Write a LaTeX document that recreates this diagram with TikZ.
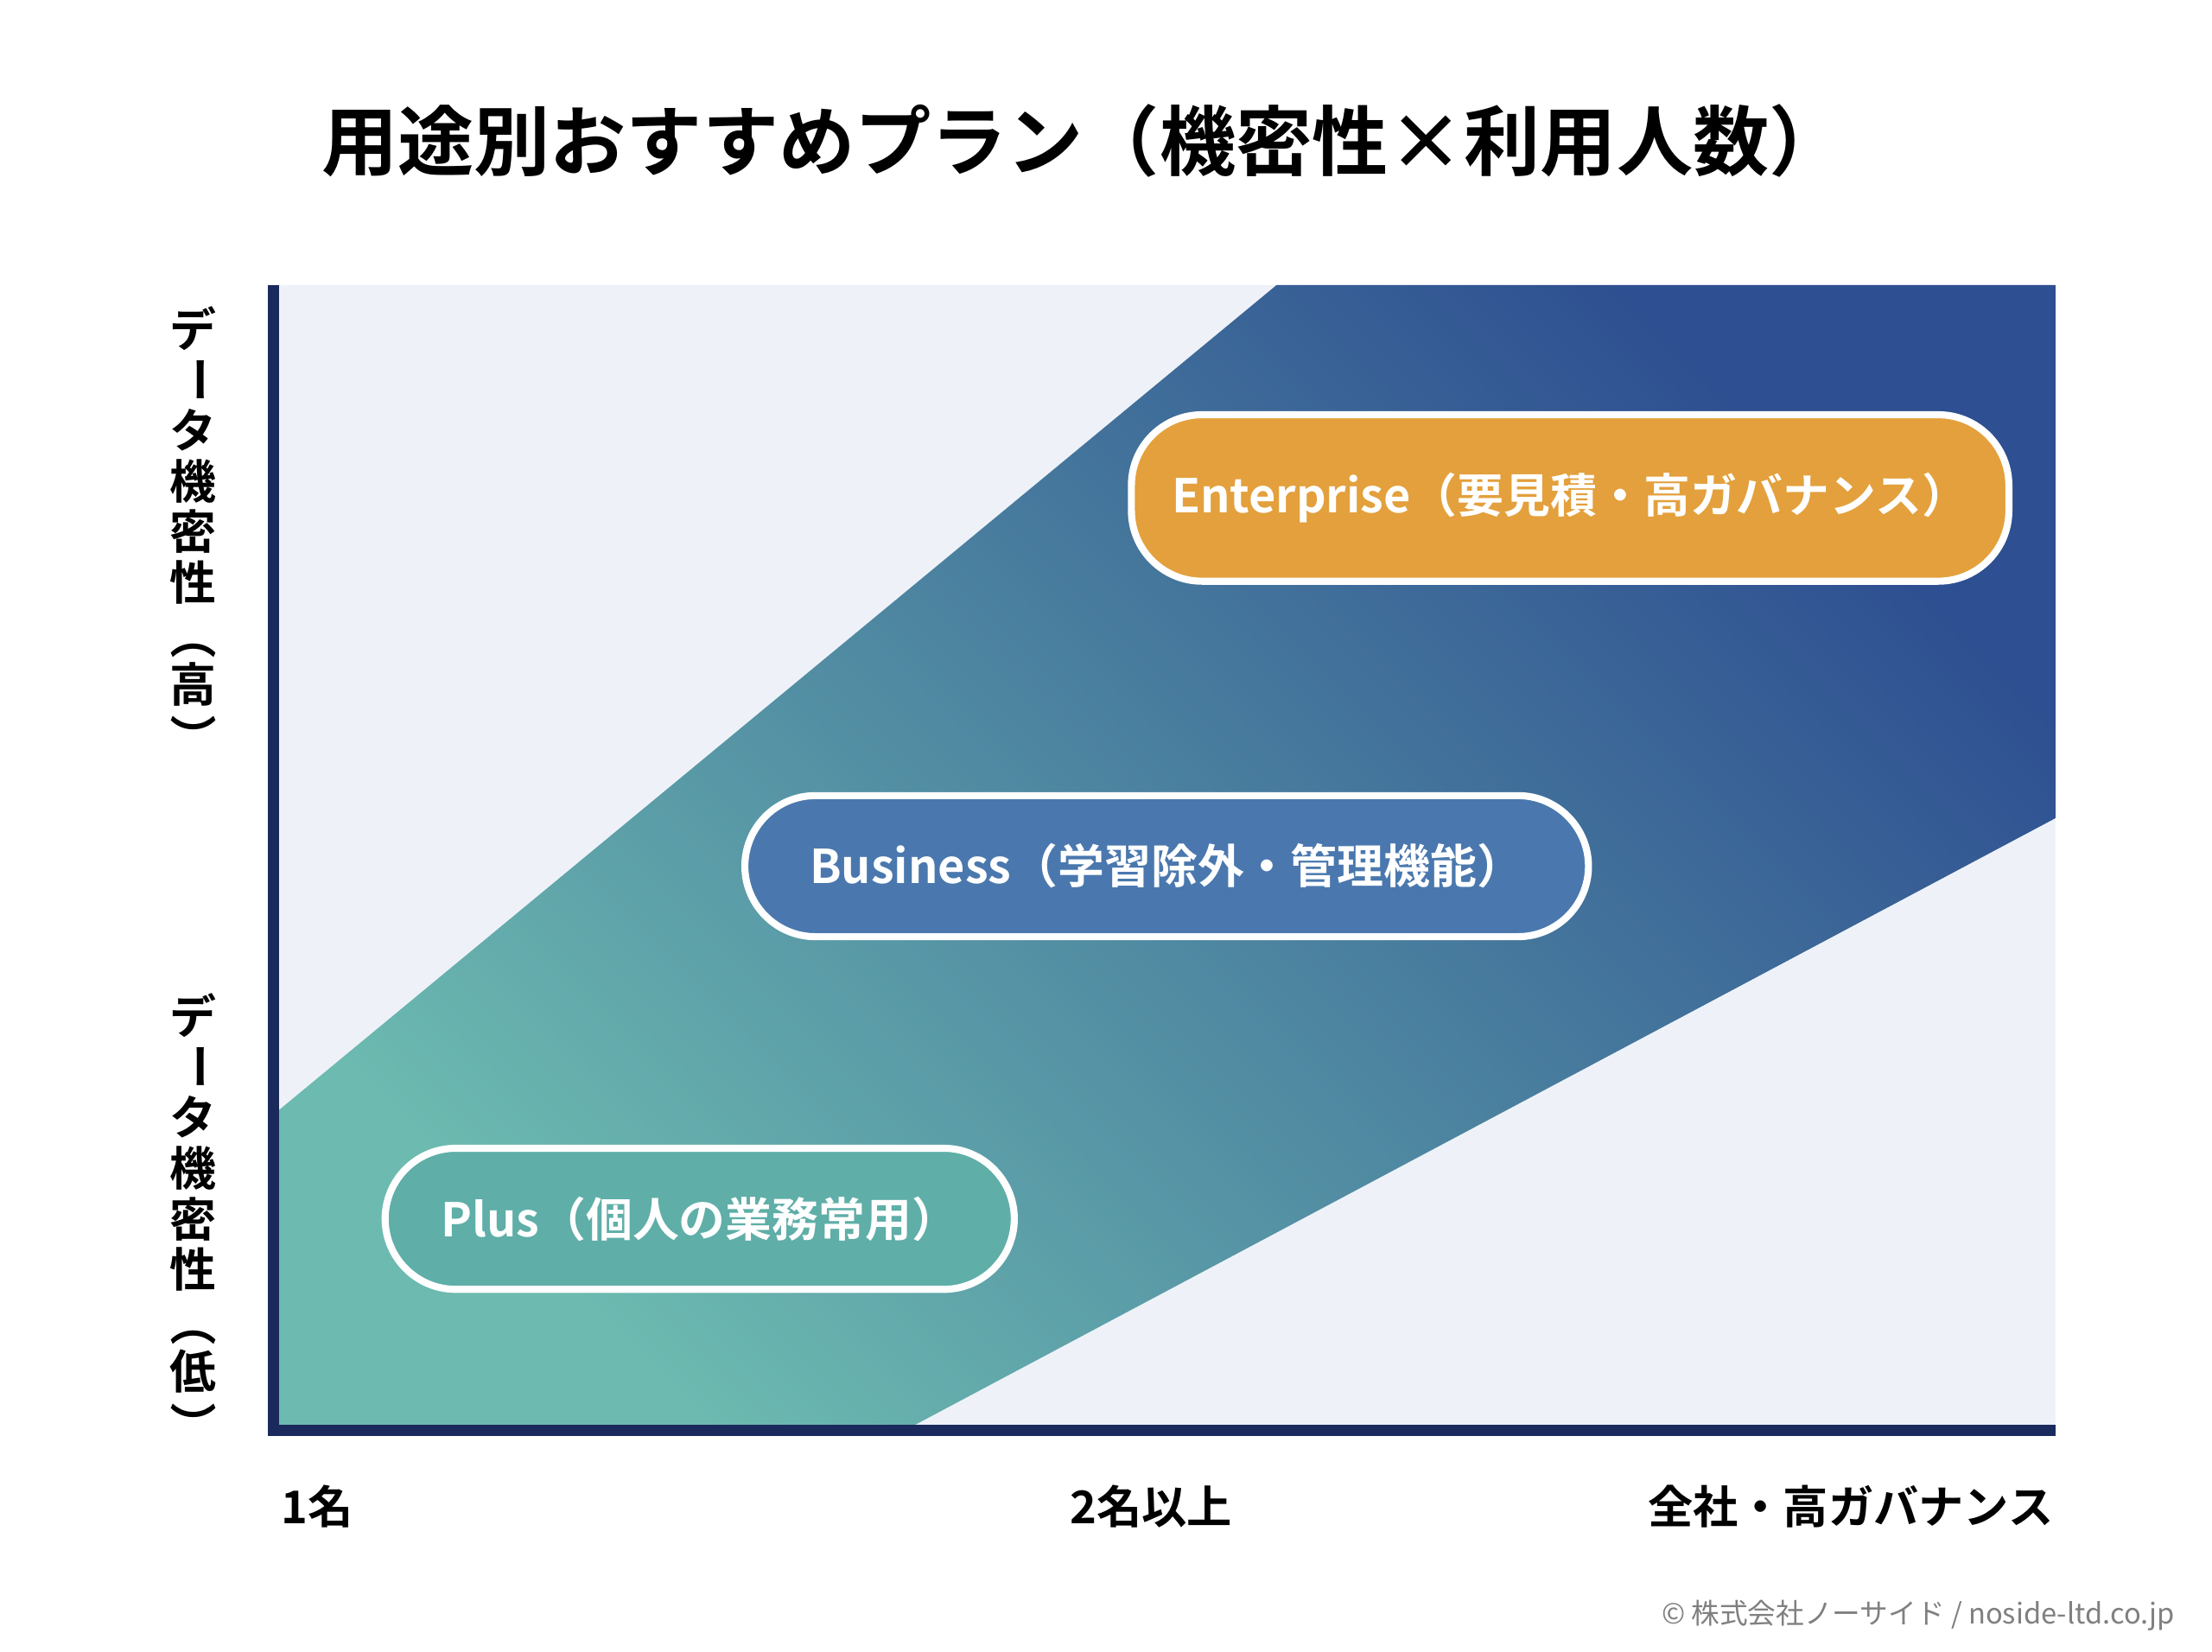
\documentclass[tikz,border=0pt]{standalone}
\usepackage{fontspec}
\newfontfamily\jp{Noto Sans CJK JP}[BoldFont={Noto Sans CJK JP Bold}]
\definecolor{bg}{HTML}{EEF2F8}
\definecolor{navy}{HTML}{1B2A5C}
\definecolor{tealc}{HTML}{6CBAB0}
\definecolor{blue2}{HTML}{2E4F91}
\definecolor{ent}{HTML}{E3A03C}
\definecolor{bus}{HTML}{4A78AE}
\definecolor{plus}{HTML}{5FAEA8}
\tikzset{pill/.style={rounded corners=50pt, draw=white, line width=5pt, text=white, font=\jp\bfseries\fontsize{33}{38}\selectfont, inner sep=0pt},
 ax/.style={font=\jp\bfseries\fontsize{32}{36}\selectfont, text=black},
 vch/.style={font=\jp\bfseries\fontsize{33}{36}\selectfont, inner sep=0pt}}
\begin{document}
\begin{tikzpicture}[x=1pt,y=-1pt]
\useasboundingbox[fill=white] (0,0) rectangle (1568,1171);
\node[font=\jp\bfseries\fontsize{54}{60}\selectfont] (title) at (768,100) {用途別おすすめプラン（機密性×利用人数）};
\fill[bg] (194,202) rectangle (1457,1012);
\begin{scope}
\clip (194,790) -- (905,202) -- (1457,202) -- (1457,580) -- (645,1012) -- (194,1012) -- cycle;
\shade[left color=tealc, right color=blue2, shading angle=135] (194,202) rectangle (1457,1012);
\end{scope}
\draw[navy, line width=8pt] (194,202) -- (194,1014) -- (1457,1014);
\node[pill, fill=ent, minimum width=622pt, minimum height=118pt] (ent) at (1113,353) {Enterprise（要見積・高ガバナンス）};
\node[pill, fill=bus, minimum width=598pt, minimum height=100pt] (bus) at (827,614) {Business（学習除外・管理機能）};
\node[pill, fill=plus, minimum width=446pt, minimum height=100pt] (plus) at (496,864) {Plus（個人の業務常用）};
\foreach \base/\c in {233/高,720/低}{
  \node[vch] at (137,\base) {デ};
  \node[vch, rotate=-90] at (137,\base+36) {ー};
  \node[vch] at (137,\base+72) {タ};
  \node[vch] at (137,\base+108) {機};
  \node[vch] at (137,\base+144) {密};
  \node[vch] at (137,\base+180) {性};
  \node[vch, rotate=-90] at (137,\base+218) {（};
  \node[vch] at (137,\base+252) {\c};
  \node[vch, rotate=-90] at (137,\base+290) {）};
}
\node[ax, anchor=west] (x1) at (196,1068) {1名};
\node[ax] (x2) at (816,1068) {2名以上};
\node[ax, anchor=east] (x3) at (1459,1068) {全社・高ガバナンス};
\node[font=\jp\fontsize{20}{22}\selectfont, text=gray, anchor=east] (cr) at (1545,1145) {© 株式会社ノーサイド / noside-ltd.co.jp};
\end{tikzpicture}
\end{document}
